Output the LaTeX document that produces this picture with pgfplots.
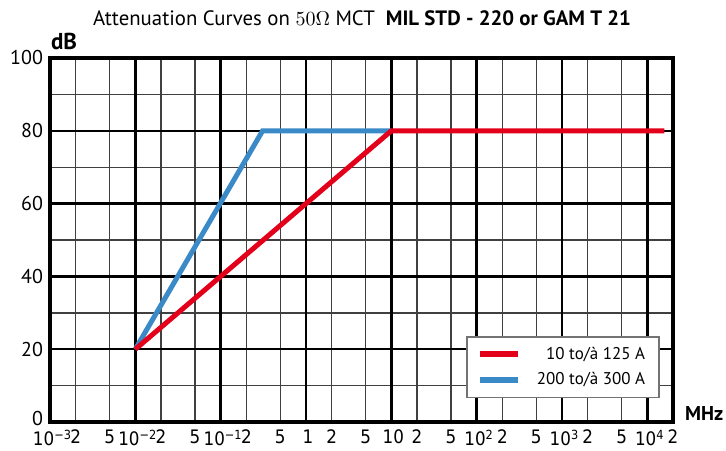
\documentclass[border=0pt]{standalone}
\usepackage{pgfplots}
\pgfplotsset{compat=1.18}
\usepackage{fontspec}
\setmainfont{PT Sans}
\newfontfamily\tickfont{DejaVu Sans Condensed}
\definecolor{cred}{RGB}{227,0,27}
\definecolor{cblue}{RGB}{58,138,200}
\newcommand{\dec}[1]{10\raisebox{0.6ex}{\fontsize{6.3}{7}\selectfont #1}}

\begin{document}
\begin{tikzpicture}
\begin{axis}[
  xmode=log,
  scale only axis, width=311.5pt, height=182pt,
  xmin=1e-3, xmax=2e4, ymin=0, ymax=100,
  xtick={2e-3,5e-3,2e-2,5e-2,2e-1,5e-1,2,5,20,50,200,500,2000,5000,20000},
  xticklabels={2,5,2,5,2,5,2,5,2,5,2,5,2,5,2},
  extra x ticks={1e-3,1e-2,1e-1,1,10,100,1000,10000},
  extra x tick labels={\dec{−3},\dec{−2},\dec{−1},1,10,\dec{2},\dec{3},\dec{4}},
  extra x tick style={grid=major, major x grid style={black, line width=1.2pt}, grid style={black, line width=1.2pt},
    tick label style={xshift=1pt}},
  ytick={0,20,...,100}, yticklabels={\raisebox{3.5pt}{0},20,40,60,80,100},
  minor ytick={10,30,...,90},
  xmajorgrids, ymajorgrids, yminorgrids,
  major x grid style={black!75, line width=0.7pt},
  major y grid style={black, line width=1.2pt},
  minor y grid style={black!75, line width=0.7pt},
  major tick length=0pt, minor tick length=0pt,
  axis line style={line width=1.7pt},
  x tick label style={font=\tickfont\fontsize{9.3}{10}\selectfont, yshift=-0.5pt, inner xsep=1pt},
  y tick label style={font=\fontsize{10}{11}\selectfont},
  legend style={at={(0.668,0.066)}, anchor=south west, draw=black!55, line width=0.7pt,
    font=\fontsize{8.5}{10}\selectfont, inner xsep=5pt, inner ysep=3pt, row sep=1pt},
  legend cell align=right,
  reverse legend,
  legend image code/.code={\draw[#1, line width=3pt] (0pt,0pt) -- (19pt,0pt);},
]
\addplot[cblue, line width=2.5pt] coordinates {(0.01,20) (0.31,80) (10,80)};
\addlegendentry{\hspace*{6pt}200 to/à 300 A}
\addplot[cred, line width=2.5pt] coordinates {(0.01,20) (10,80) (15800,80)};
\addlegendentry{10 to/à 125 A}
\end{axis}
\node[anchor=base west, font=\bfseries\fontsize{11.5}{12}\selectfont] at (-3pt,186pt) {dB};
\node[anchor=base west, font=\bfseries\fontsize{10}{12}\selectfont] at (314pt,1pt) {MHz};
\node[anchor=base, font=\fontsize{10.4}{11}\selectfont] at (156pt,198pt) {Attenuation Curves on $50\Omega$ MCT\ \ \textbf{MIL STD - 220 or GAM T 21}};
\pgfresetboundingbox
\useasboundingbox (-25pt,-14pt) rectangle (338pt,211pt);
\end{tikzpicture}
\end{document}
